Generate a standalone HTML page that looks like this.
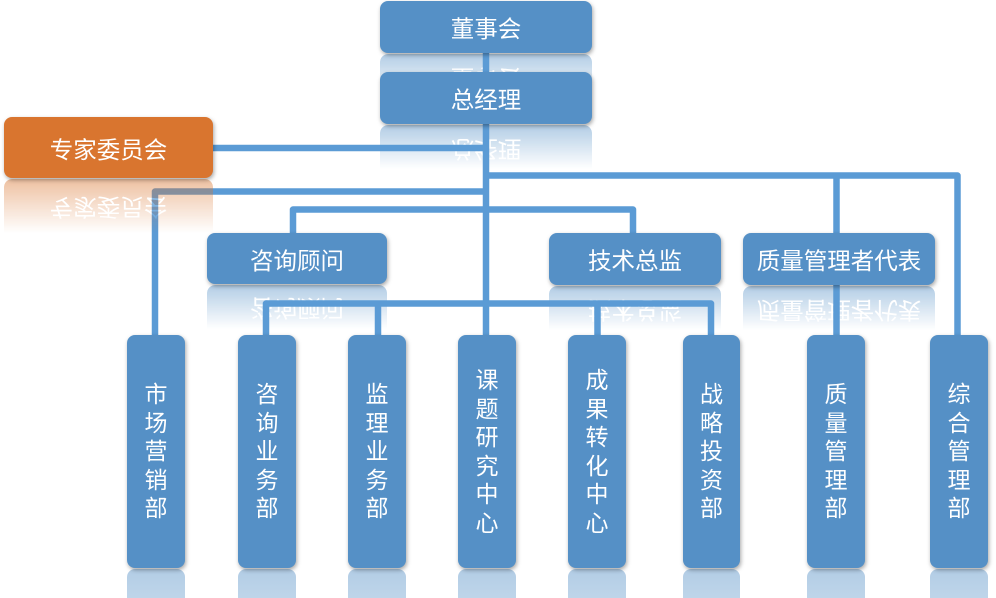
<!DOCTYPE html>
<html>
<head>
<meta charset="utf-8">
<style>
html,body{margin:0;padding:0;width:996px;height:598px;overflow:hidden;background:#fff;}
#w{position:relative;width:996px;height:598px;overflow:hidden;
font-family:"Liberation Sans","Noto Sans CJK SC",sans-serif;}
.b{position:absolute;background:#5590C6;color:#fff;border-radius:8px;
box-shadow:1px 2px 4px rgba(0,0,0,0.35);display:flex;align-items:center;justify-content:center;
font-size:23.5px;white-space:nowrap;z-index:4;}
.o{background:#D9752F;}
.v{font-size:23px;line-height:28.5px;}
.v span{display:block;width:1em;text-align:center;white-space:normal;word-break:break-all;}
.r{position:absolute;background:#5590C6;color:#fff;border-radius:8px;display:flex;align-items:center;justify-content:center;
font-size:23.5px;white-space:nowrap;z-index:1;transform:scaleY(-1);}
.r.o{background:#D9752F;z-index:3;}
.br{position:absolute;top:569px;height:29px;border-radius:8px 8px 0 0;z-index:1;
background:linear-gradient(rgba(85,144,198,.45),rgba(85,144,198,.38));}
svg{position:absolute;left:0;top:0;z-index:2;}
</style>
</head>
<body>
<div id="w">

<!-- reflections -->
<div class="r" style="left:380px;top:54px;width:212px;height:52px;-webkit-mask-image:linear-gradient(to top,rgba(0,0,0,.45),rgba(0,0,0,0) 44px);mask-image:linear-gradient(to top,rgba(0,0,0,.45),rgba(0,0,0,0) 44px);">董事会</div>
<div class="r" style="left:380px;top:125px;width:212px;height:52px;-webkit-mask-image:linear-gradient(to top,rgba(0,0,0,.45),rgba(0,0,0,0) 44px);mask-image:linear-gradient(to top,rgba(0,0,0,.45),rgba(0,0,0,0) 44px);">总经理</div>
<div class="r o" style="left:4px;top:179px;width:209px;height:61px;-webkit-mask-image:linear-gradient(to top,rgba(0,0,0,.45),rgba(0,0,0,0) 54px);mask-image:linear-gradient(to top,rgba(0,0,0,.45),rgba(0,0,0,0) 54px);">专家委员会</div>
<div class="r" style="left:207px;top:285px;width:180px;height:51px;-webkit-mask-image:linear-gradient(to top,rgba(0,0,0,.45),rgba(0,0,0,0) 44px);mask-image:linear-gradient(to top,rgba(0,0,0,.45),rgba(0,0,0,0) 44px);">咨询顾问</div>
<div class="r" style="left:549px;top:286px;width:172px;height:52px;-webkit-mask-image:linear-gradient(to top,rgba(0,0,0,.45),rgba(0,0,0,0) 44px);mask-image:linear-gradient(to top,rgba(0,0,0,.45),rgba(0,0,0,0) 44px);">技术总监</div>
<div class="r" style="left:743px;top:286px;width:192px;height:52px;-webkit-mask-image:linear-gradient(to top,rgba(0,0,0,.45),rgba(0,0,0,0) 44px);mask-image:linear-gradient(to top,rgba(0,0,0,.45),rgba(0,0,0,0) 44px);">质量管理者代表</div>

<div class="br" style="left:127px;width:58px;"></div>
<div class="br" style="left:238px;width:58px;"></div>
<div class="br" style="left:348px;width:58px;"></div>
<div class="br" style="left:458px;width:58px;"></div>
<div class="br" style="left:568px;width:58px;"></div>
<div class="br" style="left:683px;width:57px;"></div>
<div class="br" style="left:807px;width:58px;"></div>
<div class="br" style="left:930px;width:58px;"></div>

<!-- connectors -->
<svg width="996" height="598" viewBox="0 0 996 598">
<g fill="none" stroke="#5B9BD5" stroke-width="6.5" stroke-linejoin="round" stroke-linecap="butt">
<path d="M486 53 V336"/>
<path d="M213 148 H486"/>
<path d="M486 175.5 H957.5 V336"/>
<path d="M836.5 175.5 V234"/>
<path d="M836.5 284 V336"/>
<path d="M155 336 V191.5 H486"/>
<path d="M293 234 V209.5 H633 V234"/>
<path d="M266 336 V303.5 H711 V336"/>
<path d="M378 303.5 V336"/>
<path d="M597.5 303.5 V336"/>
</g>
</svg>

<!-- boxes -->
<div class="b" style="left:380px;top:1px;width:212px;height:52px;">董事会</div>
<div class="b" style="left:380px;top:72px;width:212px;height:52px;">总经理</div>
<div class="b o" style="left:4px;top:117px;width:209px;height:61px;">专家委员会</div>
<div class="b" style="left:207px;top:233px;width:180px;height:51px;">咨询顾问</div>
<div class="b" style="left:549px;top:233px;width:172px;height:52px;">技术总监</div>
<div class="b" style="left:743px;top:233px;width:192px;height:52px;">质量管理者代表</div>

<div class="b v" style="left:127px;top:335px;width:58px;height:233px;"><span>市场营销部</span></div>
<div class="b v" style="left:238px;top:335px;width:58px;height:233px;"><span>咨询业务部</span></div>
<div class="b v" style="left:348px;top:335px;width:58px;height:233px;"><span>监理业务部</span></div>
<div class="b v" style="left:458px;top:335px;width:58px;height:233px;"><span>课题研究中心</span></div>
<div class="b v" style="left:568px;top:335px;width:58px;height:233px;"><span>成果转化中心</span></div>
<div class="b v" style="left:683px;top:335px;width:57px;height:233px;"><span>战略投资部</span></div>
<div class="b v" style="left:807px;top:335px;width:58px;height:233px;"><span>质量管理部</span></div>
<div class="b v" style="left:930px;top:335px;width:58px;height:233px;"><span>综合管理部</span></div>

</div>
</body>
</html>
